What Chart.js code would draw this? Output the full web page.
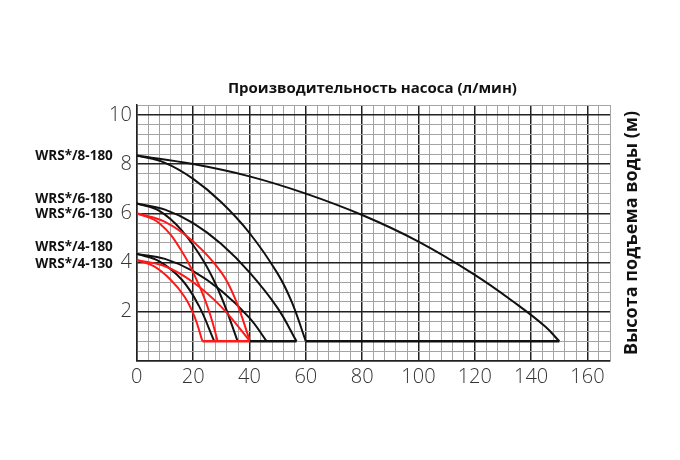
<!DOCTYPE html>
<html>
<head>
<meta charset="utf-8">
<script src="https://cdn.jsdelivr.net/npm/chart.js@4.4.1/dist/chart.umd.min.js"></script>
<style>
  html, body { margin: 0; padding: 0; background: #fff; }
</style>
</head>
<body>
<canvas id="pump-chart" width="680" height="460"></canvas>
<script>
// flow (l/min) and head (m)
const flow8Flat = [0, 20, 40, 60, 80, 100, 120, 135, 145, 150];
const head8Flat = [8.35, 8.0, 7.5, 6.8, 5.93, 4.85, 3.5, 2.3, 1.4, 0.8];
const flow8Steep = [0, 10, 20, 30, 40, 50, 55, 60];
const head8Steep = [8.35, 8.05, 7.4, 6.45, 5.2, 3.55, 2.4, 0.8];

const flow6Flat = [0, 10, 20, 30, 40, 50, 56.7];
const head6Flat = [6.4, 6.15, 5.6, 4.75, 3.6, 2.15, 0.8];
const flow6Steep = [0, 8, 16, 24, 30, 35.8];
const head6Steep = [6.4, 6.1, 5.3, 4.0, 2.6, 0.8];

const flow6RedFlat = [0, 10, 20, 30, 35, 40.2];
const head6RedFlat = [6.0, 5.65, 4.85, 3.6, 2.5, 0.8];
const flow6RedSteep = [0, 8, 16, 22, 26, 28.7];
const head6RedSteep = [6.0, 5.6, 4.45, 3.1, 1.9, 0.8];

const flow4Flat = [0, 10, 20, 30, 40, 46.1];
const head4Flat = [4.35, 4.15, 3.65, 2.85, 1.75, 0.8];
const flow4Steep = [0, 8, 16, 22, 27.5];
const head4Steep = [4.35, 4.05, 3.3, 2.25, 0.8];

const flow4RedFlat = [0, 10, 20, 30, 40.2];
const head4RedFlat = [4.1, 3.85, 3.2, 2.2, 0.8];
const flow4RedSteep = [0, 6, 12, 17, 20.5, 23.3];
const head4RedSteep = [4.1, 3.85, 3.3, 2.6, 1.8, 0.8];

// bottom run-out lines
const flowBaseRed = [23.3, 40.2];
const flowBaseBlack = [40.2, 56.7];
const flowBaseLong = [60, 150];
const headBase = [0.8, 0.8];

const modelNames = ['WRS*/8-180', 'WRS*/6-180', 'WRS*/6-130', 'WRS*/4-180', 'WRS*/4-130'];
const modelLevels = [8.33, 6.57, 5.96, 4.61, 3.92];

const xTitle = 'Производительность насоса (л/мин)';
const yTitle = 'Высота подъема воды (м)';

const BLACK = '#111111';
const RED = '#ff1a1a';

function toPoints(xs, ys) {
  return xs.map((x, i) => ({x: x, y: ys[i]}));
}

function curve(xs, ys, color, width) {
  return {
    data: toPoints(xs, ys),
    borderColor: color,
    borderWidth: width || 2,
    pointRadius: 0,
    fill: false,
    tension: 0.4,
  };
}

const pluginAxisTexts = {
  id: 'axisTexts',
  afterDraw: (chart, args, options) => {
    var ctx = chart.ctx,
    area = chart.chartArea,
    yScale = chart.scales.y;

    ctx.save();
    ctx.fillStyle = '#111';
    ctx.textAlign = 'center';
    ctx.textBaseline = 'middle';
    ctx.font = 'bold 15px "Open Sans"';
    ctx.fillText(xTitle, (area.left + area.right) / 2 - 1, area.top - 16);

    ctx.translate(area.right + 22, (area.top + area.bottom) / 2);
    ctx.rotate(-Math.PI / 2);
    ctx.font = 'bold 18px "Open Sans"';
    ctx.fillText(yTitle, 0, 0);
    ctx.restore();

    ctx.save();
    ctx.fillStyle = '#111';
    ctx.textAlign = 'right';
    ctx.textBaseline = 'middle';
    ctx.font = 'bold 13.5px "Open Sans"';
    modelNames.forEach((name, i) => {
      ctx.fillText(name, area.left - 24, yScale.getPixelForValue(modelLevels[i]));
    });
    ctx.restore();
  }
};

function isMajor(v, step) {
  return Math.abs(v / step - Math.round(v / step)) < 1e-6;
}

const tickFont = {family: '"Open Sans"', size: 20, weight: '300'};

var config = {
  type: 'line',
  data: {
    datasets: [
      curve(flowBaseLong, headBase, BLACK, 2.5),
      curve(flowBaseBlack, headBase, BLACK, 2.5),
      curve(flowBaseRed, headBase, RED, 2.5),
      curve(flow6RedFlat, head6RedFlat, RED),
      curve(flow6RedSteep, head6RedSteep, RED),
      curve(flow4RedFlat, head4RedFlat, RED),
      curve(flow4RedSteep, head4RedSteep, RED),
      curve(flow8Flat, head8Flat, BLACK),
      curve(flow8Steep, head8Steep, BLACK),
      curve(flow6Flat, head6Flat, BLACK),
      curve(flow6Steep, head6Steep, BLACK),
      curve(flow4Flat, head4Flat, BLACK),
      curve(flow4Steep, head4Steep, BLACK),
    ],
  },
  options: {
    responsive: false,
    animation: false,
    devicePixelRatio: 1,
    layout: {
      padding: {left: 104, right: 70, top: 105, bottom: 67},
    },
    plugins: {
      legend: {display: false},
      tooltip: {enabled: false},
      title: {display: false},
    },
    scales: {
      x: {
        type: 'linear',
        min: 0,
        max: 168,
        border: {display: true, color: '#222', width: 1.5},
        grid: {
          drawTicks: false,
          color: (c) => isMajor(c.tick.value, 20) ? '#222' : '#a4a4a4',
          lineWidth: (c) => isMajor(c.tick.value, 20) ? 1.5 : 1,
        },
        ticks: {
          stepSize: 4,
          autoSkip: false,
          maxRotation: 0,
          padding: 4,
          color: '#333',
          font: tickFont,
          callback: (v) => (isMajor(v, 20) && v <= 160) ? String(v) : '',
        },
      },
      y: {
        type: 'linear',
        min: 0,
        max: 10.4,
        border: {display: true, color: '#222', width: 1.5},
        grid: {
          drawTicks: false,
          color: (c) => isMajor(c.tick.value, 2) ? '#222' : '#a4a4a4',
          lineWidth: (c) => isMajor(c.tick.value, 2) ? 1.5 : 1,
        },
        ticks: {
          stepSize: 0.4,
          autoSkip: false,
          padding: 5,
          color: '#333',
          font: tickFont,
          callback: (v) => (isMajor(v, 2) && v > 0 && v <= 10) ? String(Math.round(v)) : '',
        },
      },
    },
  },
  plugins: [pluginAxisTexts],
};

window.addEventListener('load', () => {
  const ctx = document.getElementById('pump-chart').getContext('2d');
  window.pumpChart = new Chart(ctx, config);
});
</script>
</body>
</html>
